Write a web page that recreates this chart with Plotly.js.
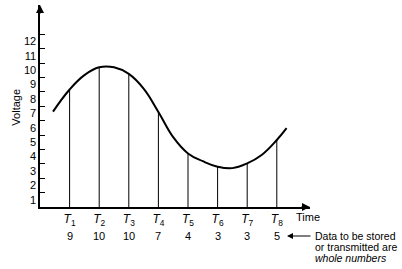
<!DOCTYPE html>
<html>
<head>
<meta charset="utf-8">
<script src="https://cdn.plot.ly/plotly-3.0.1.min.js"></script>
<style>html,body{margin:0;padding:0;background:#fff;}#chart{width:402px;height:269px;}</style>
</head>
<body>
<div id="chart"></div>
<script>
// Analog curve (x in units of sampling instants T, y in volts)
var curveT = [0.44, 1, 1.5, 2, 2.5, 3, 3.5, 4, 4.5, 5, 5.5, 6, 6.5, 7, 7.5, 8, 8.33];
var curveV = [7.12, 8.66, 9.66, 10.2, 10.2, 9.74, 8.72, 7.1, 5.35, 4.22, 3.68, 3.3, 3.2, 3.53, 4.13, 5.15, 5.97];
var sampleT = [1, 2, 3, 4, 5, 6, 7, 8];
var sampleLabels = ['1', '2', '3', '4', '5', '6', '7', '8'];
var digitalValues = [9, 10, 10, 7, 4, 3, 3, 5];
// Voltage axis labels
var voltTicks = [1, 2, 3, 4, 5, 6, 7, 8, 9, 10, 11, 12];
// Note text
var noteLines = ['Data to be stored', 'or transmitted are', '<i>whole numbers</i>'];

var FONT = 'Liberation Sans, Arial, Helvetica, sans-serif';
var BASE = 0.5;
var PLOT_W = 270, PLOT_H = 202, L = 40, T_PX = 5;
function px2paperX(px) { return (px - L) / PLOT_W; }
function px2paperY(py) { return (T_PX + PLOT_H - py) / PLOT_H; }

// vertical sample lines
var vx = [], vy = [];
sampleT.forEach(function (t) {
  var i = curveT.indexOf(t);
  vx.push(t, t, null);
  vy.push(BASE, curveV[i], null);
});

var traces = [
  {x: vx, y: vy, mode: 'lines', line: {color: '#000', width: 1}, hoverinfo: 'skip', showlegend: false},
  {x: curveT, y: curveV, mode: 'lines', line: {color: '#000', width: 2, shape: 'spline', smoothing: 1.2}, hoverinfo: 'skip', showlegend: false}
];

var annotations = [];
// digital values row
sampleT.forEach(function (t, k) {
  annotations.push({x: t, xref: 'x', y: px2paperY(236), yref: 'paper', text: String(digitalValues[k]),
    showarrow: false, font: {family: FONT, size: 11, color: '#000'}, xanchor: 'center', yanchor: 'middle'});
});
// axis arrows
annotations.push({x: 1, xref: 'paper', y: 0, yref: 'paper', ax: -10, ay: 0,
  text: '', showarrow: true, arrowhead: 2, arrowsize: 1, arrowwidth: 1.6, arrowcolor: '#000'});
annotations.push({x: 0, xref: 'paper', y: 1, yref: 'paper', ax: 0, ay: 10,
  text: '', showarrow: true, arrowhead: 2, arrowsize: 1, arrowwidth: 1.6, arrowcolor: '#000'});
// axis names
annotations.push({x: 0, xref: 'paper', xshift: -24, y: 7.4, yref: 'y', text: 'Voltage', textangle: -90,
  showarrow: false, font: {family: FONT, size: 11, color: '#000'}, xanchor: 'center', yanchor: 'middle'});
annotations.push({x: px2paperX(308), xref: 'paper', y: px2paperY(217), yref: 'paper', text: 'Time',
  showarrow: false, font: {family: FONT, size: 11, color: '#000'}, xanchor: 'center', yanchor: 'middle'});
// note arrow and text
annotations.push({x: px2paperX(287), xref: 'paper', y: px2paperY(236), yref: 'paper', ax: 25, ay: 0, text: '', showarrow: true,
  arrowhead: 2, arrowsize: 1, arrowwidth: 1.2, arrowcolor: '#000'});
noteLines.forEach(function (s, k) {
  annotations.push({x: px2paperX(313), xref: 'paper', y: px2paperY(236 + 11 * k), yref: 'paper', text: s,
    showarrow: false, font: {family: FONT, size: 10.5, color: '#000'}, xanchor: 'left', yanchor: 'middle'});
});

var layout = {
  width: 402, height: 269,
  margin: {l: L, r: 402 - L - PLOT_W, t: T_PX, b: 269 - T_PX - PLOT_H},
  paper_bgcolor: '#fff', plot_bgcolor: '#fff',
  font: {family: FONT, size: 11, color: '#000'},
  xaxis: {
    range: [0, PLOT_W / 29.6], showgrid: false, zeroline: false,
    showline: true, linecolor: '#000', linewidth: 1.6,
    tickvals: sampleT,
    ticktext: sampleLabels.map(function (s) { return '<i>T</i><sub>' + s + '</sub>'; }),
    ticks: '', ticklabelstandoff: 0,
    tickfont: {family: FONT, size: 12, color: '#000'}
  },
  yaxis: {
    range: [BASE, BASE + PLOT_H / 14.4], showgrid: false, zeroline: false,
    showline: true, linecolor: '#000', linewidth: 1.6,
    tickvals: voltTicks, ticktext: voltTicks.map(String), ticks: '',
    tickfont: {family: FONT, size: 11, color: '#000'},
    minor: {tickvals: voltTicks.map(function (v) { return v + 0.5; }), ticks: 'inside', ticklen: 5, tickcolor: '#000', tickwidth: 1, showgrid: false}
  },
  annotations: annotations,
  showlegend: false
};

Plotly.newPlot('chart', traces, layout, {displayModeBar: false, staticPlot: true});
</script>
</body>
</html>
